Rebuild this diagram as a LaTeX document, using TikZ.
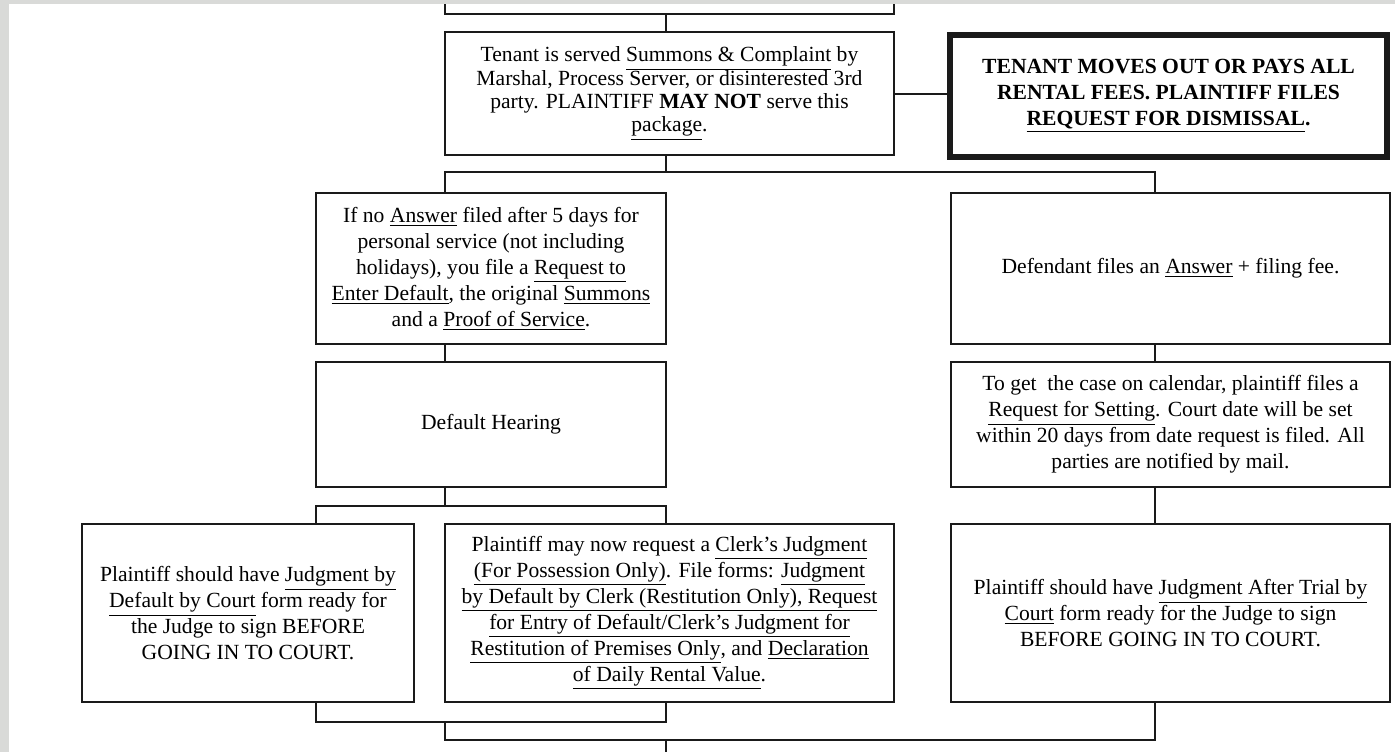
\documentclass[tikz,border=0pt]{standalone}
\usepackage{fontspec}
\setmainfont{Liberation Serif}
\usepackage{tikz}
\definecolor{slidegray}{HTML}{D9DAD8}
\definecolor{inkline}{HTML}{1A1A1A}
\newcommand{\boxfont}{\fontsize{10.8}{13}\selectfont}
\newcommand{\tightfont}{\fontsize{10.8}{11.6}\selectfont\lineskiplimit=-20pt}
\newcommand{\flowbox}[7][]{%
  \node[stepbox,#1,minimum width={(#5-#3)*0.5pt},minimum height={(#6-#4)*0.5pt}] (#2) at ({(#3+#5)/2},{(#4+#6)/2}) {#7};
}
\tikzset{
  stepbox/.style={draw=inkline,line width=1pt,inner sep=0pt,align=center,font=\boxfont},
  link/.style={draw=inkline,line width=1pt},
}

\begin{document}
\begin{tikzpicture}[x=0.5pt,y=-0.5pt]
    \useasboundingbox (0,0) rectangle (1395,752);
    \fill[slidegray] (0,0) rectangle (1395,752);
    \fill[white] (9,4) rectangle (1395,752);
    \draw[link] (445,4) -- (445,14) -- (894,14) -- (894,4);
    \coordinate (prev) at (666,14);
    \flowbox[font=\tightfont]{tenant}{445}{32}{894}{155}{Tenant is served \underline{Summons \& Complaint} by\\Marshal, Process Server, or disinterested 3rd\\party.  PLAINTIFF \textbf{MAY NOT} serve this\\\underline{package}.}
    \flowbox[line width=3pt]{moveout}{950}{34.5}{1387}{157}{\bfseries TENANT MOVES OUT OR PAYS ALL\\\bfseries RENTAL FEES.  PLAINTIFF FILES\\\bfseries\underline{REQUEST FOR DISMISSAL}.}
    \flowbox{noanswer}{316}{193}{666}{344}{If no \underline{Answer} filed after 5 days for\\personal service (not including\\holidays), you file a \underline{Request to}\\\underline{Enter Default}, the original \underline{Summons}\\and a \underline{Proof of Service}.}
    \flowbox{answer}{951}{193}{1390}{344}{Defendant files an \underline{Answer} + filing fee.}
    \flowbox{hearing}{316}{362}{666}{487}{Default Hearing}
    \flowbox{setting}{951}{362}{1390}{487}{To get~ the case on calendar, plaintiff files a\\\underline{Request for Setting}.  Court date will be set\\within 20 days from date request is filed.  All\\parties are notified by mail.}
    \flowbox{bycourt}{82}{524}{414}{702}{Plaintiff should have \underline{Judgment by}\\\underline{Default by Court} form ready for\\the Judge to sign BEFORE\\GOING IN TO COURT.}
    \flowbox{byclerk}{445}{524}{894}{702}{Plaintiff may now request a \underline{Clerk's Judgment}\\\underline{(For Possession Only)}.  File forms:  \underline{Judgment}\\\underline{by Default by Clerk (Restitution Only), Request}\\\underline{for Entry of Default/Clerk's Judgment for}\\\underline{Restitution of Premises Only}, and \underline{Declaration}\\\underline{of Daily Rental Value}.}
    \flowbox{aftertrial}{951}{524}{1390}{702}{Plaintiff should have \underline{Judgment After Trial by}\\\underline{Court} form ready for the Judge to sign\\BEFORE GOING IN TO COURT.}
    \coordinate (splitA) at (666,172);
    \coordinate (dropAL) at (445,172);
    \coordinate (dropAR) at (1155,172);
    \coordinate (splitB) at (445,506);
    \coordinate (dropBL) at (316,506);
    \coordinate (dropBR) at (666,506);
    \coordinate (joinL) at (316,722);
    \coordinate (joinR) at (666,722);
    \coordinate (joinB) at (445,722);
    \coordinate (mergeL) at (445,740);
    \coordinate (mergeR) at (1155,740);
    \coordinate (next) at (666,752);
    \draw[link] (prev) -- (prev |- tenant.north);
    \draw[link] (tenant.east) -- (tenant.east -| moveout.west);
    \draw[link] (tenant.south -| splitA) -- (splitA);
    \draw[link] (noanswer.north -| dropAL) -- (dropAL) -- (dropAR) -- (answer.north -| dropAR);
    \draw[link] (noanswer.south -| dropAL) -- (hearing.north -| dropAL);
    \draw[link] (answer.south -| dropAR) -- (setting.north -| dropAR);
    \draw[link] (hearing.south -| splitB) -- (splitB);
    \draw[link] (bycourt.north -| dropBL) -- (dropBL) -- (dropBR) -- (byclerk.north -| dropBR);
    \draw[link] (setting.south -| dropAR) -- (aftertrial.north -| dropAR);
    \draw[link] (bycourt.south -| joinL) -- (joinL) -- (joinR) -- (byclerk.south -| joinR);
    \draw[link] (joinB) -- (mergeL) -- (mergeR) -- (aftertrial.south -| mergeR);
    \draw[link] (mergeL -| next) -- (next);
\end{tikzpicture}
\end{document}
